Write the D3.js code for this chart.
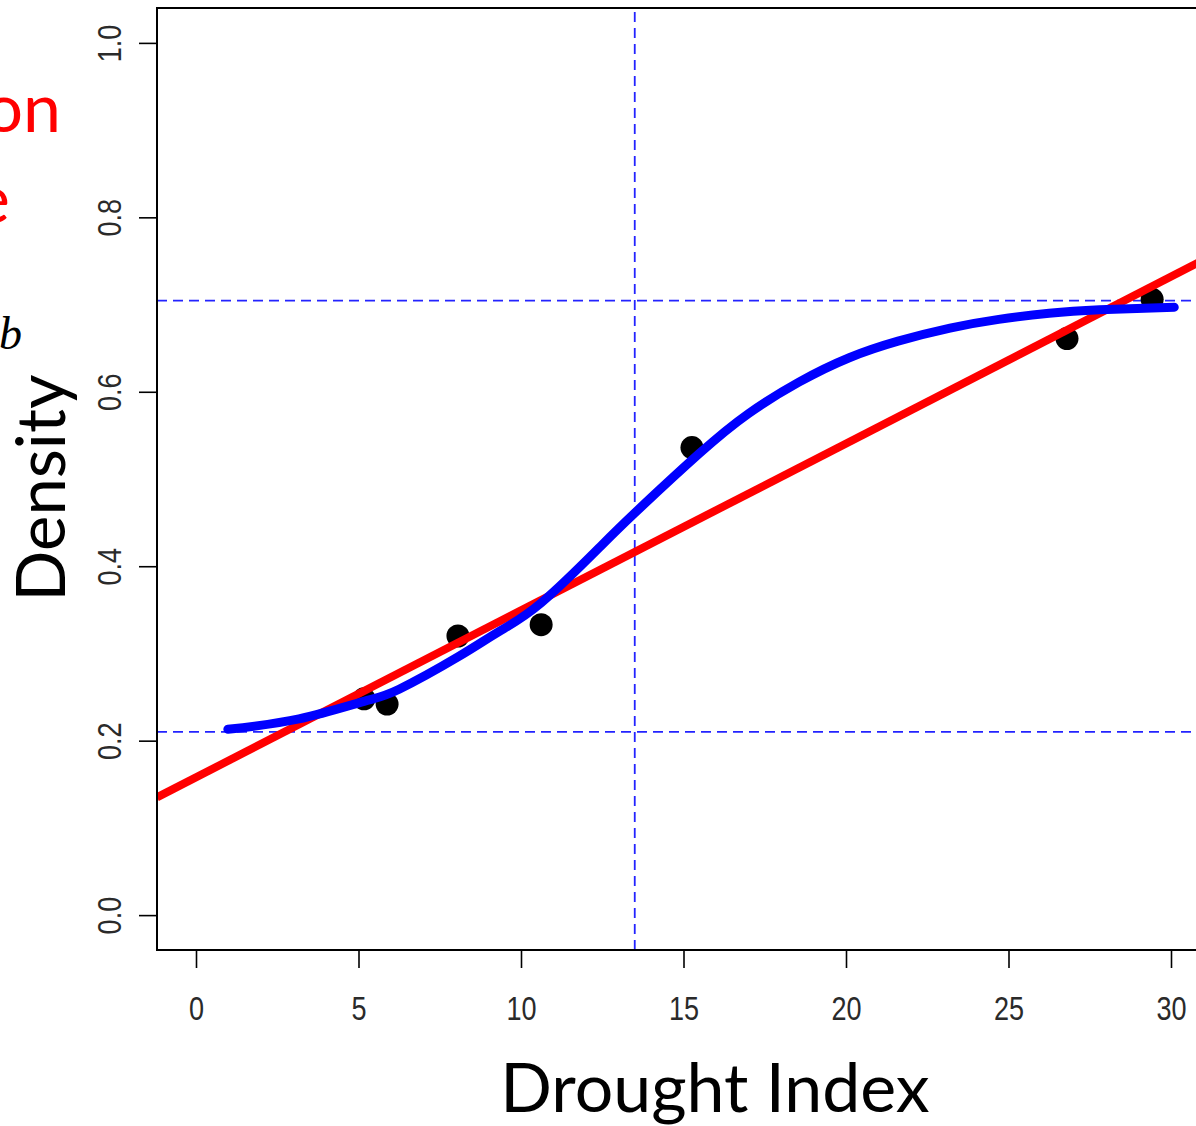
<!DOCTYPE html>
<html>
<head>
<meta charset="utf-8">
<script src="https://cdn.jsdelivr.net/npm/d3@7"></script>
<style>
  html, body { margin: 0; padding: 0; background: #fff; overflow: hidden; }
  .tick text { font-family: "Liberation Sans", Arial, sans-serif; font-size: 33px; fill: #2a2a2a; }
  .tick line { stroke: #000; stroke-width: 1.6; }
</style>
</head>
<body>
<div id="chart"></div>
<script>
// tick values
const xTicks = [0, 5, 10, 15, 20, 25, 30];
const yTicks = [0, 0.2, 0.4, 0.6, 0.8, 1.0];

// observed points
const pointX = [5.17, 5.88, 8.06, 10.62, 15.26, 26.8, 29.42];
const pointY = [0.248, 0.242, 0.320, 0.333, 0.536, 0.661, 0.706];

// fitted logistic curve (blue)
const curveX = [0.98, 3.17, 5.17, 6.25, 8.06, 9.32, 10.62, 12.4, 13.5, 15.48, 17.0, 18.55, 20.1, 21.6, 23.2, 24.7, 26.25, 27.8, 30.1];
const curveY = [0.213, 0.225, 0.245, 0.259, 0.296, 0.325, 0.358, 0.421, 0.461, 0.529, 0.575, 0.611, 0.639, 0.658, 0.673, 0.683, 0.690, 0.694, 0.697];

// straight fit (red), two ends
const fitX = [-1.2, 31.2];
const fitY = [0.135, 0.755];

// dashed reference lines
const refY = [0.21, 0.7045];
const refX = [13.5];

const W = 1196, H = 1126;

const svg = d3.select("#chart").append("svg")
    .attr("width", W)
    .attr("height", H)
    .style("background", "#fff");

const x = d3.scaleLinear().domain([-1.2, 31.2]).range([157, 1210]);
const y = d3.scaleLinear().domain([-0.04, 1.04]).range([950, 8]);

// clip to the plot box
svg.append("clipPath").attr("id", "plotclip")
  .append("rect")
    .attr("x", x.range()[0]).attr("y", y.range()[1])
    .attr("width", x.range()[1] - x.range()[0])
    .attr("height", y.range()[0] - y.range()[1]);

const plot = svg.append("g").attr("clip-path", "url(#plotclip)");

// reference lines
plot.selectAll("line.refh")
  .data(refY)
  .join("line")
    .attr("class", "refh")
    .attr("x1", x.range()[0]).attr("x2", x.range()[1])
    .attr("y1", d => y(d)).attr("y2", d => y(d))
    .attr("stroke", "#2323ff").attr("stroke-width", 1.8)
    .attr("stroke-dasharray", "10,6");

plot.selectAll("line.refv")
  .data(refX)
  .join("line")
    .attr("class", "refv")
    .attr("x1", d => x(d)).attr("x2", d => x(d))
    .attr("y1", y.range()[0]).attr("y2", y.range()[1])
    .attr("stroke", "#2323ff").attr("stroke-width", 1.8)
    .attr("stroke-dasharray", "10,6");

// points
plot.selectAll("circle")
  .data(pointX.map((d, i) => ({x: d, y: pointY[i]})))
  .join("circle")
    .attr("cx", d => x(d.x))
    .attr("cy", d => y(d.y))
    .attr("r", 11.5)
    .attr("fill", "#000");

// red straight fit
plot.append("path")
    .datum(fitX.map((d, i) => [d, fitY[i]]))
    .attr("fill", "none")
    .attr("stroke", "#ff0000")
    .attr("stroke-width", 8)
    .attr("d", d3.line().x(d => x(d[0])).y(d => y(d[1])));

// blue logistic curve
plot.append("path")
    .datum(curveX.map((d, i) => [d, curveY[i]]))
    .attr("fill", "none")
    .attr("stroke", "#0000ff")
    .attr("stroke-width", 9)
    .attr("stroke-linecap", "round")
    .attr("d", d3.line().curve(d3.curveNatural).x(d => x(d[0])).y(d => y(d[1])));

// frame
svg.append("rect")
    .attr("x", x.range()[0]).attr("y", y.range()[1])
    .attr("width", x.range()[1] - x.range()[0])
    .attr("height", y.range()[0] - y.range()[1])
    .attr("fill", "none")
    .attr("stroke", "#000")
    .attr("stroke-width", 2);

// x axis
const xAxis = svg.append("g")
    .attr("transform", `translate(0,${y.range()[0]})`)
    .call(d3.axisBottom(x).tickValues(xTicks).tickSize(18).tickPadding(29).tickFormat(d3.format("d")));
xAxis.select(".domain").remove();
// narrow glyphs like the R device font
xAxis.selectAll(".tick text").attr("transform", "scale(0.82,1)");

// y axis, labels rotated like R
const yAxis = svg.append("g")
    .attr("transform", `translate(${x.range()[0]},0)`)
    .call(d3.axisLeft(y).tickValues(yTicks).tickSize(18).tickFormat(d3.format(".1f")));
yAxis.select(".domain").remove();
yAxis.selectAll(".tick text")
    .attr("x", null).attr("dy", null)
    .attr("text-anchor", "middle")
    .attr("transform", "translate(-36,0) rotate(-90) scale(0.82,1)");

// axis titles
svg.append("text")
    .attr("x", 715).attr("y", 1112)
    .attr("text-anchor", "middle")
    .style("font-family", "Lato, 'Open Sans', sans-serif")
    .style("font-size", "68px")
    .text("Drought Index");

svg.append("text")
    .attr("transform", "translate(65,488) rotate(-90)")
    .attr("text-anchor", "middle")
    .style("font-family", "Lato, 'Open Sans', sans-serif")
    .style("font-size", "67px")
    .text("Density");

// clipped slide text on the left edge
svg.append("text")
    .attr("x", 61).attr("y", 132)
    .attr("text-anchor", "end")
    .style("font-family", "Lato, 'Open Sans', sans-serif")
    .style("font-size", "68px")
    .attr("fill", "#ff0000")
    .text("on");

svg.append("text")
    .attr("x", 10).attr("y", 223)
    .attr("text-anchor", "end")
    .style("font-family", "Lato, 'Open Sans', sans-serif")
    .style("font-size", "68px")
    .attr("fill", "#ff0000")
    .text("e");

svg.append("text")
    .attr("x", 22).attr("y", 349)
    .attr("text-anchor", "end")
    .style("font-family", "'Liberation Serif', 'DejaVu Serif', serif")
    .style("font-style", "italic")
    .style("font-size", "46px")
    .attr("fill", "#000")
    .text("b");
</script>
</body>
</html>
